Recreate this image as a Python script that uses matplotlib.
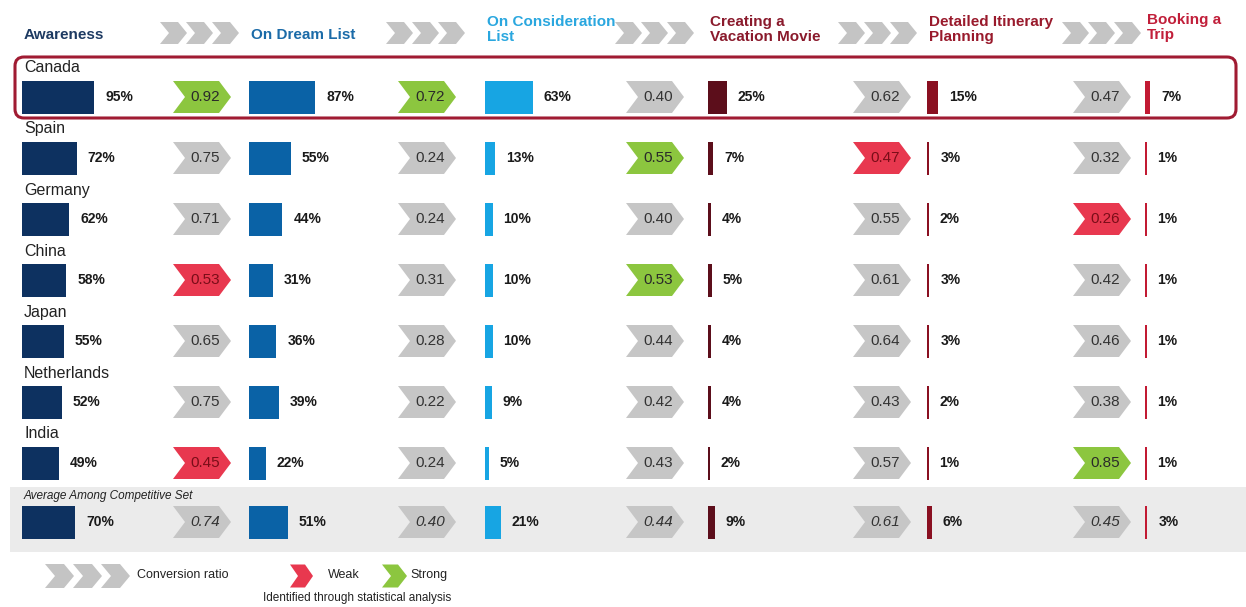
import numpy as np
import matplotlib
matplotlib.use('Agg')
import matplotlib.pyplot as plt
from matplotlib.patches import Polygon, Rectangle, FancyBboxPatch

plt.rcParams['font.family'] = ['Liberation Sans Narrow', 'Liberation Sans', 'DejaVu Sans']

# data
stages = ['Awareness', 'On Dream List', 'On Consideration\nList',
          'Creating a\nVacation Movie', 'Detailed Itinerary\nPlanning', 'Booking a\nTrip']
countries = ['Canada', 'Spain', 'Germany', 'China', 'Japan', 'Netherlands', 'India']
awareness = [95, 72, 62, 58, 55, 52, 49]
dream = [87, 55, 44, 31, 36, 39, 22]
consideration = [63, 13, 10, 10, 10, 9, 5]
movie = [25, 7, 4, 5, 4, 4, 2]
itinerary = [15, 3, 2, 3, 3, 2, 1]
booking = [7, 1, 1, 1, 1, 1, 1]
avg_pct = [70, 51, 21, 9, 6, 3]

ratio_aw_dream = [0.92, 0.75, 0.71, 0.53, 0.65, 0.75, 0.45]
ratio_dream_cons = [0.72, 0.24, 0.24, 0.31, 0.28, 0.22, 0.24]
ratio_cons_movie = [0.40, 0.55, 0.40, 0.53, 0.44, 0.42, 0.43]
ratio_movie_itin = [0.62, 0.47, 0.55, 0.61, 0.64, 0.43, 0.57]
ratio_itin_book = [0.47, 0.32, 0.26, 0.42, 0.46, 0.38, 0.85]
avg_ratio = [0.74, 0.40, 0.44, 0.61, 0.45]

# S = strong, W = weak, '' = neutral
flag_aw_dream = ['S', '', '', 'W', '', '', 'W']
flag_dream_cons = ['S', '', '', '', '', '', '']
flag_cons_movie = ['', 'S', '', 'S', '', '', '']
flag_movie_itin = ['', 'W', '', '', '', '', '']
flag_itin_book = ['', '', 'W', '', '', '', 'S']

pct_cols = [awareness, dream, consideration, movie, itinerary, booking]
ratio_cols = [ratio_aw_dream, ratio_dream_cons, ratio_cons_movie, ratio_movie_itin, ratio_itin_book]
flag_cols = [flag_aw_dream, flag_dream_cons, flag_cons_movie, flag_movie_itin, flag_itin_book]

# layout (pixels)
bar_x = [22, 249, 485, 708, 927, 1145]
chev_x = [173, 398, 626, 853, 1073]
head_chev_x = [160, 386, 615, 838, 1062]
row_y = [97, 158, 219, 280, 341, 402, 463]
avg_y = 522
px_per_pct = 0.76
bar_h = 33

bar_colors = ['#0d3160', '#0a62a6', '#17a5e3', '#5c0e1b', '#8a1021', '#c21a33']
head_colors = ['#1d3a62', '#1b6ba8', '#2aa7df', '#8a1a2c', '#991a2c', '#c11f3a']
chev_colors = {'': '#c6c6c6', 'S': '#8cc63f', 'W': '#e8384f'}
chev_text = {'': '#333333', 'S': '#2a2a2a', 'W': '#7a0d18'}


def chevron(ax, x, y, w, h, p, color):
    pts = [(x, y - h / 2), (x + w - p, y - h / 2), (x + w, y), (x + w - p, y + h / 2),
           (x, y + h / 2), (x + p, y)]
    ax.add_patch(Polygon(pts, closed=True, facecolor=color, edgecolor='none'))


def pct_bar(ax, i, y, val):
    w = max(val * px_per_pct, 1.6)
    ax.add_patch(Rectangle((bar_x[i], y - bar_h / 2), w, bar_h,
                           facecolor=bar_colors[i], edgecolor='none'))
    ax.text(bar_x[i] + w + 11, y, '%d%%' % val, ha='left', va='center',
            fontsize=10, fontweight='bold', color='#1a1a1a',
            family=['Liberation Sans', 'DejaVu Sans'])


fig = plt.figure(figsize=(12.46, 6.07), dpi=100)
ax = fig.add_axes([0, 0, 1, 1])
ax.set_xlim(0, 1246)
ax.set_ylim(607, 0)
ax.axis('off')

# header
for i, name in enumerate(stages):
    two = '\n' in name
    top = 13 if i == 5 else 15
    if two:
        ax.text(bar_x[i] + 2, top, name, ha='left', va='top',
                fontsize=11, fontweight='bold', color=head_colors[i], linespacing=1.05)
    else:
        ax.text(bar_x[i] + 2, 35, name, ha='left', va='center',
                fontsize=11, fontweight='bold', color=head_colors[i])
for x in head_chev_x:
    for k in range(3):
        chevron(ax, x + k * 26, 33, 27, 22, 9, '#c4c4c4')

# average row background
ax.add_patch(Rectangle((10, 487), 1236, 65, facecolor='#ebebeb', edgecolor='none'))

# country rows
for r, c in enumerate(countries):
    y = row_y[r]
    ax.text(24, y - 29, c, ha='left', va='center', fontsize=11.5, color='#222222',
            family=['Liberation Sans', 'DejaVu Sans'])
    for i in range(6):
        pct_bar(ax, i, y, pct_cols[i][r])
    for j in range(5):
        f = flag_cols[j][r]
        chevron(ax, chev_x[j], y, 58, 32, 12, chev_colors[f])
        ax.text(chev_x[j] + 32, y, '%.2f' % ratio_cols[j][r], ha='center', va='center',
                fontsize=11, color=chev_text[f])

# average row
ax.text(24, 496, 'Average Among Competitive Set', ha='left', va='center',
        fontsize=8.5, style='italic', color='#222222')
for i in range(6):
    pct_bar(ax, i, avg_y, avg_pct[i])
for j in range(5):
    chevron(ax, chev_x[j], avg_y, 58, 32, 12, chev_colors[''])
    ax.text(chev_x[j] + 32, avg_y, '%.2f' % avg_ratio[j], ha='center', va='center',
            fontsize=11, style='italic', color='#333333')

# highlight box around Canada
ax.add_patch(FancyBboxPatch((15, 57), 1221, 61, boxstyle='round,pad=0,rounding_size=9',
                            facecolor='none', edgecolor='#a01b32', lw=2.2))

# legend
for k in range(3):
    chevron(ax, 45 + k * 28, 576, 29, 24, 10, '#c4c4c4')
ax.text(137, 575, 'Conversion ratio', ha='left', va='center', fontsize=9, color='#222222')
chevron(ax, 290, 576, 23, 23, 8, chev_colors['W'])
ax.text(328, 575, 'Weak', ha='left', va='center', fontsize=9, color='#222222')
chevron(ax, 382, 576, 25, 23, 9, chev_colors['S'])
ax.text(410, 575, 'Strong', ha='left', va='center', fontsize=9, color='#222222')
ax.text(263, 598, 'Identified through statistical analysis', ha='left', va='center',
        fontsize=8.5, color='#222222')

fig.savefig('out.png', dpi=100)
